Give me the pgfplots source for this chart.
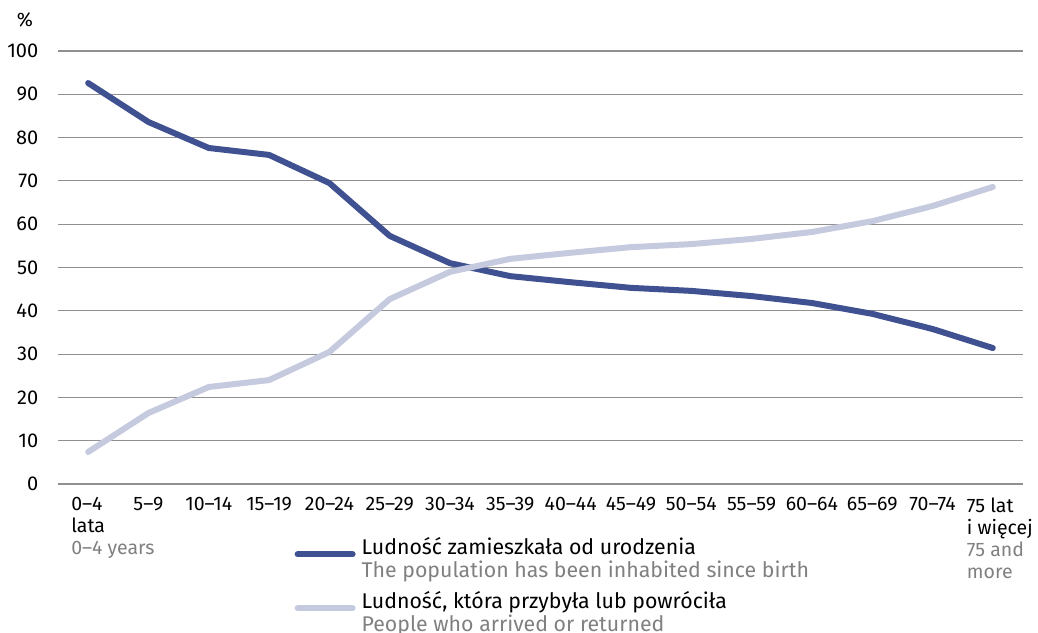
\documentclass[border=0pt]{standalone}
\usepackage{pgfplots}
\pgfplotsset{compat=1.18}
\usepackage{fontspec}
\setmainfont{Fira Sans}
\definecolor{dark}{HTML}{3F5190}
\definecolor{light}{HTML}{C5CADF}
\definecolor{gridc}{HTML}{909090}
\definecolor{subg}{HTML}{808080}
\begin{document}
\fontsize{19.5}{22}\selectfont
\begin{tikzpicture}
\path[use as bounding box] (-58pt,-148pt) rectangle (980pt,484pt);
\begin{axis}[
  scale only axis,
  width=965pt, height=433pt,
  xmin=-0.5, xmax=15.5, ymin=0, ymax=100,
  axis x line*=bottom, axis y line*=left,
  axis line style={draw=none},
  major tick length=0pt,
  ytick={0,10,...,100},
  ymajorgrids=true,
  grid style={gridc, line width=1.2pt},
  xtick={0,...,14},
  xticklabels={
    {0--4\\lata\\\rlap{\color{subg}0--4 years}},
    5--9, 10--14, 15--19, 20--24, 25--29, 30--34, 35--39, 40--44,
    45--49, 50--54, 55--59, 60--64, 65--69, 70--74},
  extra x ticks={15},
  extra x tick labels={{75 lat\\i więcej\\{\color{subg}75 and}\\{\color{subg}more}}},
  extra x tick style={xticklabel style={xshift=7pt}},
  xticklabel style={align=left, anchor=north, yshift=-7pt, font=\fontsize{19.5}{22}\selectfont},
  yticklabel style={xshift=-13pt, font=\fontsize{20}{22}\selectfont},
  /pgf/number format/assume math mode=true,
  legend style={at={(axis description cs:0.245,-0.118)}, anchor=north west, draw=none, fill=none,
    font=\fontsize{21.3}{22}\selectfont, row sep=30pt, inner sep=0pt},
  legend cell align=left,
  legend image code/.code={\draw[#1] (0pt,-7pt) -- (55pt,-7pt); \path (59pt,-7pt);},
  every axis plot/.append style={line width=6pt, line cap=round, line join=round},
  clip=false,
]
\addplot[dark] coordinates {
(0,92.6) (1,83.6) (2,77.6) (3,76.0) (4,69.5) (5,57.3) (6,51.0) (7,48.0)
(8,46.6) (9,45.3) (10,44.6) (11,43.4) (12,41.8) (13,39.3) (14,35.8) (15,31.4)};
\addlegendentry{\begin{tabular}[t]{@{}l@{}}Ludność zamieszkała od urodzenia\\{\color{subg}The population has been inhabited since birth}\end{tabular}}
\addplot[light] coordinates {
(0,7.4) (1,16.4) (2,22.4) (3,24.0) (4,30.5) (5,42.7) (6,49.0) (7,52.0)
(8,53.4) (9,54.7) (10,55.4) (11,56.6) (12,58.2) (13,60.7) (14,64.2) (15,68.6)};
\addlegendentry{\begin{tabular}[t]{@{}l@{}}Ludność, która przybyła lub powróciła\\{\color{subg}People who arrived or returned}\end{tabular}}
\node[anchor=center] at (rel axis cs:0,1) [xshift=-33pt, yshift=31pt] {\%};
\end{axis}
\end{tikzpicture}
\end{document}
